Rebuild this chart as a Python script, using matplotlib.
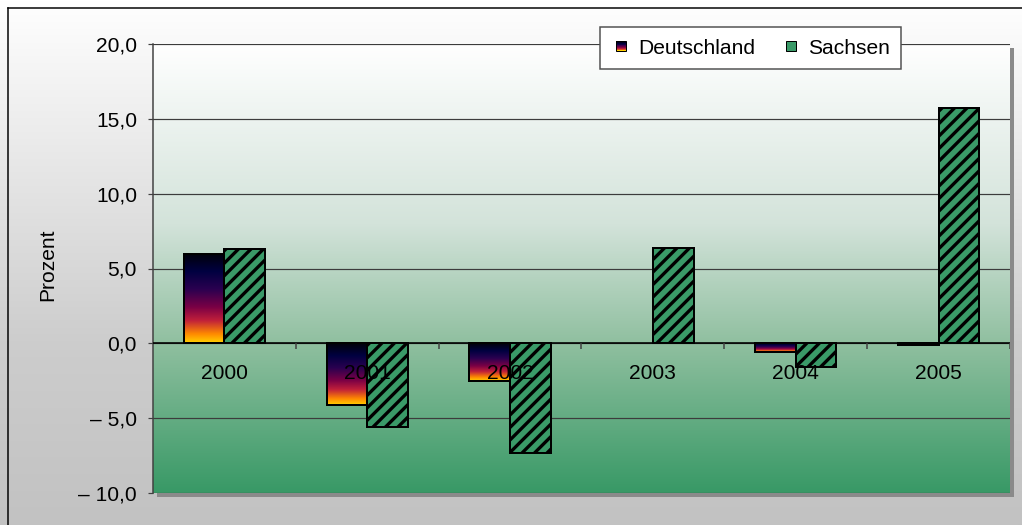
import numpy as np
import matplotlib
matplotlib.use("Agg")
import matplotlib.pyplot as plt
from matplotlib.patches import Rectangle
from matplotlib.colors import LinearSegmentedColormap
from matplotlib.legend_handler import HandlerBase
from matplotlib.lines import Line2D

years = ['2000', '2001', '2002', '2003', '2004', '2005']
deutschland = [6.0, -4.1, -2.5, 0.0, -0.6, -0.1]
sachsen = [6.3, -5.6, -7.3, 6.4, -1.6, 15.7]
yticks = [-10, -5, 0, 5, 10, 15, 20]
ytick_labels = ['\u2013 10,0', '\u2013 5,0', '0,0', '5,0', '10,0', '15,0', '20,0']

DPI = 75
W, H = 1022, 525


def pt(px):
    # pixel size -> points at this dpi
    return px * 72.0 / DPI


FS = pt(21)
plt.rcParams['font.family'] = ['Liberation Sans', 'DejaVu Sans']
plt.rcParams['hatch.linewidth'] = pt(3.3)

fig = plt.figure(figsize=(W / DPI, H / DPI), dpi=DPI)

# figure background gradient (white -> grey)
bg = fig.add_axes([0, 0, 1, 1], zorder=-10)
bg_cmap = LinearSegmentedColormap.from_list('bg', [(0, '#c2c2c2'), (0.35, '#cdcdcd'), (0.75, '#ececec'), (1, '#ffffff')])
bg.imshow(np.linspace(0, 1, 256).reshape(-1, 1), cmap=bg_cmap, aspect='auto', origin='lower', extent=[0, 1, 0, 1])
bg.set_xlim(0, 1)
bg.set_ylim(0, 1)
bg.axis('off')
# outer frame (left and top edges)
bg.add_line(Line2D([8 / W, 8 / W], [0, 1 - 8 / H], color='black', lw=pt(1.5)))
bg.add_line(Line2D([8 / W, 1], [1 - 8 / H, 1 - 8 / H], color='black', lw=pt(1.5)))

# plot area
x0, x1, y0, y1 = 153, 1010, 44, 493
# shadow
bg.add_patch(Rectangle(((x0 + 4) / W, 1 - (y1 + 4) / H), (x1 - x0) / W, (y1 - y0) / H,
                       facecolor='#8a8a8a', edgecolor='none'))

ax = fig.add_axes([x0 / W, 1 - y1 / H, (x1 - x0) / W, (y1 - y0) / H])
ax.set_xlim(-0.5, len(years) - 0.5)
ax.set_ylim(-10, 20)

plot_cmap = LinearSegmentedColormap.from_list('plot', [(0, '#389966'), (0.33, '#8fbf9f'), (0.6, '#d3e3da'), (1, '#ffffff')])
ax.imshow(np.linspace(0, 1, 256).reshape(-1, 1), cmap=plot_cmap, aspect='auto', origin='lower',
          extent=[-0.5, len(years) - 0.5, -10, 20], zorder=0)

for v in yticks:
    ax.axhline(v, color='#3c3c3c', lw=pt(1.2), zorder=1)
ax.axhline(0, color='black', lw=pt(1.6), zorder=4)

for s in ['top', 'right', 'bottom']:
    ax.spines[s].set_visible(False)
ax.spines['left'].set_color('#404040')
ax.spines['left'].set_linewidth(pt(1.5))
ax.set_yticks(yticks)
ax.set_yticklabels(ytick_labels, fontsize=FS)
ax.tick_params(axis='y', length=pt(5), width=pt(1.2), color='#404040', pad=pt(11))
ax.set_xticks([])
fig.text(48 / W, 1 - 265 / H, 'Prozent', rotation=90, ha='center', va='center', fontsize=FS)

# category boundary ticks below zero line
ax.vlines(np.arange(len(years)) + 0.5, -0.35, 0, color='#404040', lw=pt(1.5), zorder=4)

d_cmap = LinearSegmentedColormap.from_list('de', [(0, '#ffd000'), (0.1, '#ff8a00'), (0.25, '#c0203a'),
                                                  (0.4, '#7a0045'), (0.6, '#2a0050'), (0.8, '#000040'), (1, '#000008')])
grad = np.linspace(0, 1, 256).reshape(-1, 1)

x = np.arange(len(years))
w = 0.285
d_bars = ax.bar(x - w / 2, deutschland, w, facecolor='none', edgecolor='black', lw=pt(2), zorder=3)
for b, v in zip(d_bars, deutschland):
    if v == 0:
        b.set_visible(False)
        continue
    bx = b.get_x()
    im = ax.imshow(grad, cmap=d_cmap, aspect='auto', origin='lower',
                   extent=[bx, bx + b.get_width(), min(0, v), max(0, v)], zorder=2)
    im.set_clip_path(b)
ax.bar(x + w / 2, sachsen, w, facecolor='#3a9a68', edgecolor='black', hatch='//', lw=pt(2), zorder=3)
ax.set_xlim(-0.5, len(years) - 0.5)
ax.set_ylim(-10, 20)

for i, yr in enumerate(years):
    ax.text(i, -2.0, yr, ha='center', va='center', fontsize=FS, zorder=6)

SQ = pt(10)


class GradientHandler(HandlerBase):
    def create_artists(self, legend, orig_handle, xdescent, ydescent, width, height, fontsize, trans):
        n = 12
        left = xdescent + width - SQ
        bottom = -ydescent + (height - SQ) / 2
        arts = []
        for k in range(n):
            arts.append(Rectangle((left, bottom + k * SQ / n), SQ, SQ / n, facecolor=d_cmap(k / (n - 1)),
                                  edgecolor='none', transform=trans))
        arts.append(Rectangle((left, bottom), SQ, SQ, facecolor='none', edgecolor='black', lw=pt(1), transform=trans))
        return arts


class SquareHandler(HandlerBase):
    def create_artists(self, legend, orig_handle, xdescent, ydescent, width, height, fontsize, trans):
        left = xdescent + width - SQ
        bottom = -ydescent + (height - SQ) / 2
        r = Rectangle((left, bottom), SQ, SQ, facecolor='#3a9a68', edgecolor='black', hatch='/',
                      lw=pt(1), transform=trans)
        return [r]


h_d = Rectangle((0, 0), 1, 1)
h_s = Rectangle((0, 0), 1, 1)
leg = ax.legend([h_d, h_s], ['Deutschland', 'Sachsen'], ncol=2, loc='center',
                bbox_to_anchor=(0.697, 0.991), fontsize=FS, frameon=True, fancybox=False,
                handler_map={h_d: GradientHandler(), h_s: SquareHandler()},
                handlelength=0.72, handletextpad=0.57, columnspacing=1.2, borderpad=0.55)
leg.get_frame().set_edgecolor('#505050')
leg.get_frame().set_linewidth(pt(1.5))
leg.get_frame().set_facecolor('white')
leg.get_frame().set_alpha(1)
leg.set_zorder(10)

fig.savefig('out.png', dpi=DPI)
